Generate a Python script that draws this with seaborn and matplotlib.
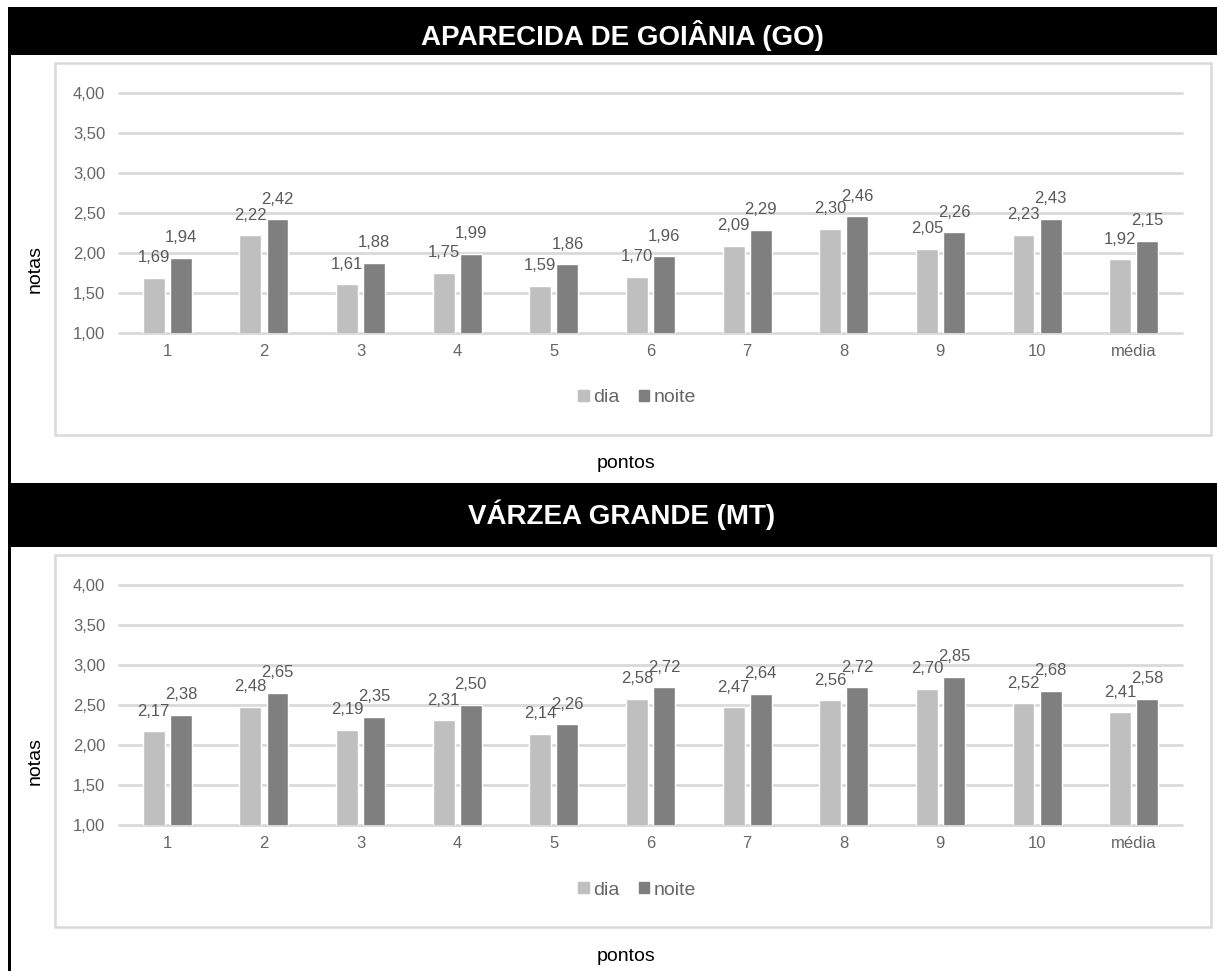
import matplotlib
matplotlib.use("Agg")
import matplotlib.pyplot as plt
import pandas as pd
import seaborn as sns
from matplotlib.patches import Rectangle

# Data
pontos = ["1", "2", "3", "4", "5", "6", "7", "8", "9", "10", "média"]
periodos = ["dia", "noite"]
aparecida_dia = [1.69, 2.22, 1.61, 1.75, 1.59, 1.70, 2.09, 2.30, 2.05, 2.23, 1.92]
aparecida_noite = [1.94, 2.42, 1.88, 1.99, 1.86, 1.96, 2.29, 2.46, 2.26, 2.43, 2.15]
varzea_dia = [2.17, 2.48, 2.19, 2.31, 2.14, 2.58, 2.47, 2.56, 2.70, 2.52, 2.41]
varzea_noite = [2.38, 2.65, 2.35, 2.50, 2.26, 2.72, 2.64, 2.72, 2.85, 2.68, 2.58]
titulos = ["APARECIDA DE GOIÂNIA (GO)", "VÁRZEA GRANDE (MT)"]
yticks = [1.00, 1.50, 2.00, 2.50, 3.00, 3.50, 4.00]

sns.set_style("white")
plt.rcParams["font.family"] = ["Liberation Sans", "DejaVu Sans"]

W, H, DPI = 1217, 971, 100
fig = plt.figure(figsize=(W / DPI, H / DPI), dpi=DPI)
fig.patch.set_facecolor("white")


def fx(px):
    return px / W


def fy(py):
    return 1 - py / H


def fmt(v):
    return f"{v:.2f}".replace(".", ",")


cores = ["#BFBFBF", "#7F7F7F"]
grade = "#D9D9D9"
texto = "#666666"

# left border line
fig.add_artist(Rectangle((fx(8), fy(971)), fx(3), fy(7) - fy(971),
                         transform=fig.transFigure, color="black", lw=0))

painel = [
    (titulos[0], aparecida_dia, aparecida_noite, 0, (7, 55), 45),
    (titulos[1], varzea_dia, varzea_noite, 492, (483, 547), 524),
]

for titulo, dia, noite, off, (h0, h1), base in painel:
    # header band
    fig.add_artist(Rectangle((fx(8), fy(h1)), fx(1217) - fx(8) + 0.01, fy(h0) - fy(h1),
                             transform=fig.transFigure, color="black", lw=0))
    fig.text(fx(622), fy(base), titulo, color="white", fontsize=20,
             fontweight="bold", ha="center", va="baseline")

    # chart area frame
    fig.add_artist(Rectangle((fx(55), fy(435 + off)), fx(1211) - fx(55),
                             fy(63 + off) - fy(435 + off), transform=fig.transFigure,
                             fill=False, edgecolor=grade, lw=1.8))

    ax = fig.add_axes([fx(119), fy(333 + off), fx(1182) - fx(119),
                       fy(93 + off) - fy(333 + off)])
    df = pd.DataFrame({
        "ponto": pontos * 2,
        "nota": dia + noite,
        "periodo": ["dia"] * len(pontos) + ["noite"] * len(pontos),
    })
    sns.barplot(data=df, x="ponto", y="nota", hue="periodo", order=pontos,
                hue_order=periodos, palette=cores, saturation=1, width=0.56,
                gap=0.19, legend=False, ax=ax, zorder=2)

    for cont, vals in zip(ax.containers, [dia, noite]):
        for bar, v in zip(cont, vals):
            ax.annotate(fmt(v), (bar.get_x() + bar.get_width() / 2, v),
                        xytext=(0, 14.5), textcoords="offset points",
                        ha="center", va="center", fontsize=12, color="#595959")

    ax.set_ylim(1, 4)
    ax.set_xlim(-0.5, len(pontos) - 0.5)
    ax.set_yticks(yticks)
    ax.set_yticklabels([fmt(t) for t in yticks])
    ax.grid(axis="y", color=grade, lw=2, zorder=0)
    ax.set_axisbelow(True)
    for gl in ax.get_ygridlines():
        gl.set_clip_on(False)
    for s in ax.spines.values():
        s.set_visible(False)
    ax.tick_params(axis="y", length=0, pad=10, labelsize=12, labelcolor=texto)
    ax.tick_params(axis="x", length=0, pad=8, labelsize=12, labelcolor=texto)
    ax.set_xlabel("")
    ax.set_ylabel("")
    ax.set_facecolor("none")

    # legend
    handles = [Rectangle((0, 0), 1, 1, color=c) for c in cores]
    fig.legend(handles, periodos, loc="center", bbox_to_anchor=(fx(637), fy(398 + off)),
               ncol=2, frameon=False, fontsize=14, labelcolor=texto,
               handlelength=0.55, handleheight=0.55, handletextpad=0.2,
               columnspacing=1.0)

    fig.text(fx(35), fy(269 + off), "notas", rotation=90, ha="center", va="center",
             fontsize=14, color="black")
    fig.text(fx(626), fy(464 + off), "pontos", ha="center", va="center",
             fontsize=14, color="black")

fig.savefig("out.png", dpi=DPI, facecolor="white")
